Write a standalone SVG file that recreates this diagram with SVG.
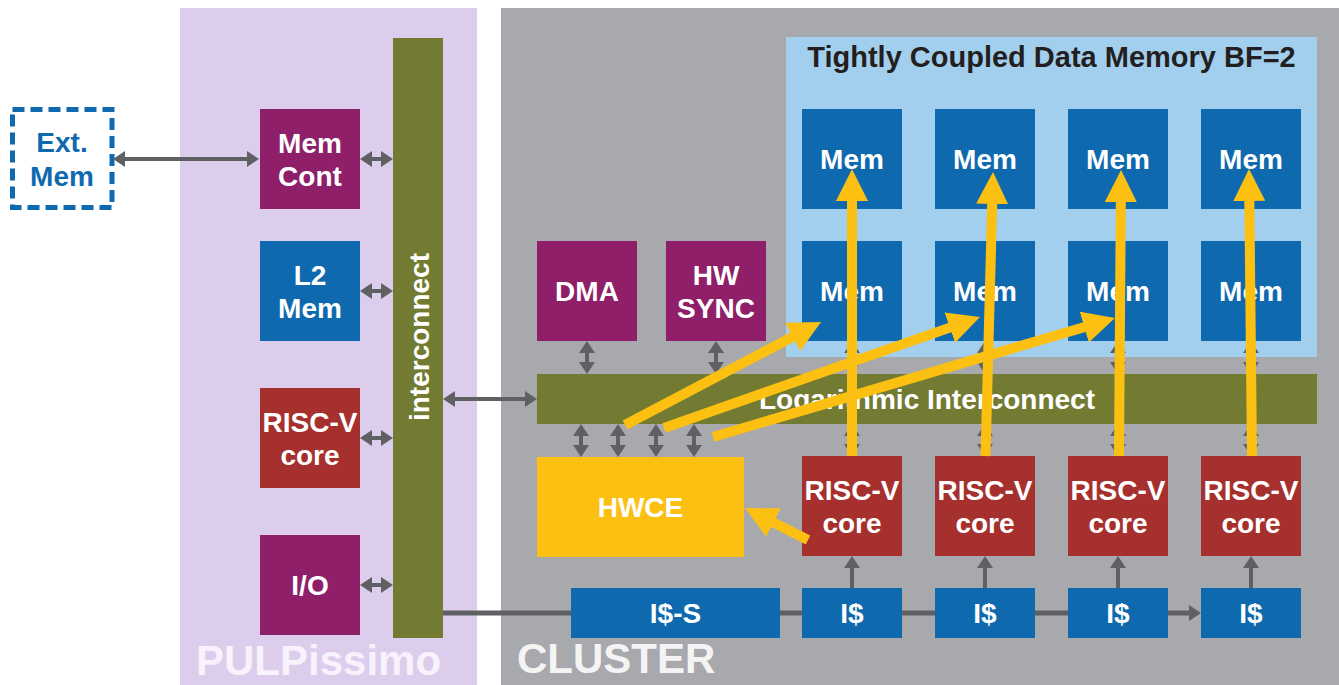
<svg xmlns="http://www.w3.org/2000/svg" width="1339" height="685" viewBox="0 0 1339 685">
<style>
 text { font-family: "Liberation Sans", Arial, Helvetica, sans-serif; font-weight: bold; }
 .lbl { fill: #FFFFFF; font-size: 28px; text-anchor: middle; }
 .purple { fill: #8E1F68; }
 .red { fill: #A6302D; }
 .blue { fill: #0F69AF; }
 .olive { fill: #737A32; }
 .yel { fill: #FCC012; }
 .ga { stroke: #5F6064; stroke-width: 4; fill: none; marker-start: url(#gh); marker-end: url(#gh); }
 .ga1 { stroke: #5F6064; stroke-width: 4; fill: none; marker-end: url(#gh); }
 .gl { stroke: #5F6064; stroke-width: 5; fill: none; }
 .ya { stroke: #FCC012; stroke-width: 10; fill: none; marker-end: url(#yh); }
</style>
<defs>
 <marker id="gh" viewBox="0 0 12 16" markerWidth="12" markerHeight="16" refX="4" refY="8" orient="auto-start-reverse" markerUnits="userSpaceOnUse">
  <path d="M0,0 L12,8 L0,16 Z" fill="#5F6064"/>
 </marker>
 <marker id="yh" viewBox="0 0 32 32" markerWidth="32" markerHeight="32" refX="12" refY="16" orient="auto" markerUnits="userSpaceOnUse">
  <path d="M0,0 L32,16 L0,32 Z" fill="#FCC012"/>
 </marker>
</defs>
<rect x="0" y="0" width="1339" height="685" fill="#FFFFFF"/>

<g id="pulpissimo">
 <rect x="180" y="8" width="297" height="677" fill="#DDCDED"/>
 <text x="196" y="675" font-size="42" fill="#F7F2FB">PULPissimo</text>
</g>
<g id="cluster">
 <rect x="501" y="8" width="838" height="677" fill="#A8A9AD"/>
 <text x="517" y="673" font-size="42" fill="#F4F4F5">CLUSTER</text>
</g>
<g id="tcdm">
 <rect x="786" y="37" width="531" height="320" fill="#A3CFEE"/>
 <text x="1051.5" y="67" font-size="29" fill="#231F20" text-anchor="middle">Tightly Coupled Data Memory BF=2</text>
</g>

<g id="ext-mem">
 <rect x="12.5" y="109.5" width="99.5" height="98" fill="none" stroke="#0F69AF" stroke-width="5" stroke-dasharray="12 6"/>
 <text x="62" y="152" font-size="28" fill="#0F69AF" text-anchor="middle">Ext.</text>
 <text x="62" y="186" font-size="28" fill="#0F69AF" text-anchor="middle">Mem</text>
</g>

<g id="interconnect">
 <rect class="olive" x="393" y="38" width="50" height="600"/>
 <text class="lbl" transform="translate(429,337) rotate(-90)">interconnect</text>
</g>
<g id="mem-cont">
 <rect class="purple" x="260" y="109" width="100" height="100"/>
 <text class="lbl" x="310" y="153">Mem</text>
 <text class="lbl" x="310" y="186">Cont</text>
</g>
<g id="l2-mem">
 <rect class="blue" x="260" y="241" width="100" height="100"/>
 <text class="lbl" x="310" y="285">L2</text>
 <text class="lbl" x="310" y="318">Mem</text>
</g>
<g id="fc-core">
 <rect class="red" x="260" y="388" width="100" height="100"/>
 <text class="lbl" x="310" y="432">RISC-V</text>
 <text class="lbl" x="310" y="465">core</text>
</g>
<g id="io">
 <rect class="purple" x="260" y="535" width="100" height="100"/>
 <text class="lbl" x="310" y="595">I/O</text>
</g>

<g id="dma">
 <rect class="purple" x="537" y="241" width="100" height="100"/>
 <text class="lbl" x="587" y="301">DMA</text>
</g>
<g id="hw-sync">
 <rect class="purple" x="666" y="241" width="100" height="100"/>
 <text class="lbl" x="716" y="285">HW</text>
 <text class="lbl" x="716" y="318">SYNC</text>
</g>
<g id="log-interconnect">
 <rect class="olive" x="537" y="374" width="780" height="50"/>
 <text class="lbl" x="927" y="409">Logarithmic Interconnect</text>
</g>
<g id="hwce">
 <rect class="yel" x="537" y="457" width="207" height="100"/>
 <text class="lbl" x="640.5" y="517">HWCE</text>
</g>
<g id="icache-s">
 <rect class="blue" x="571" y="588" width="209" height="50"/>
 <text class="lbl" x="675.5" y="623">I$-S</text>
</g>

<g id="mem-1-1"><rect class="blue" x="802" y="109" width="100" height="100"/><text class="lbl" x="852" y="169">Mem</text></g>
<g id="mem-1-2"><rect class="blue" x="935" y="109" width="100" height="100"/><text class="lbl" x="985" y="169">Mem</text></g>
<g id="mem-1-3"><rect class="blue" x="1068" y="109" width="100" height="100"/><text class="lbl" x="1118" y="169">Mem</text></g>
<g id="mem-1-4"><rect class="blue" x="1201" y="109" width="100" height="100"/><text class="lbl" x="1251" y="169">Mem</text></g>
<g id="mem-2-1"><rect class="blue" x="802" y="241" width="100" height="100"/><text class="lbl" x="852" y="301">Mem</text></g>
<g id="mem-2-2"><rect class="blue" x="935" y="241" width="100" height="100"/><text class="lbl" x="985" y="301">Mem</text></g>
<g id="mem-2-3"><rect class="blue" x="1068" y="241" width="100" height="100"/><text class="lbl" x="1118" y="301">Mem</text></g>
<g id="mem-2-4"><rect class="blue" x="1201" y="241" width="100" height="100"/><text class="lbl" x="1251" y="301">Mem</text></g>

<g id="core-1"><rect class="red" x="802" y="456" width="100" height="100"/><text class="lbl" x="852" y="500">RISC-V</text><text class="lbl" x="852" y="533">core</text></g>
<g id="core-2"><rect class="red" x="935" y="456" width="100" height="100"/><text class="lbl" x="985" y="500">RISC-V</text><text class="lbl" x="985" y="533">core</text></g>
<g id="core-3"><rect class="red" x="1068" y="456" width="100" height="100"/><text class="lbl" x="1118" y="500">RISC-V</text><text class="lbl" x="1118" y="533">core</text></g>
<g id="core-4"><rect class="red" x="1201" y="456" width="100" height="100"/><text class="lbl" x="1251" y="500">RISC-V</text><text class="lbl" x="1251" y="533">core</text></g>

<g id="icache-1"><rect class="blue" x="802" y="588" width="100" height="50"/><text class="lbl" x="852" y="623">I$</text></g>
<g id="icache-2"><rect class="blue" x="935" y="588" width="100" height="50"/><text class="lbl" x="985" y="623">I$</text></g>
<g id="icache-3"><rect class="blue" x="1068" y="588" width="100" height="50"/><text class="lbl" x="1118" y="623">I$</text></g>
<g id="icache-4"><rect class="blue" x="1201" y="588" width="100" height="50"/><text class="lbl" x="1251" y="623">I$</text></g>

<g id="connectors">
 <line class="ga" x1="121" y1="159" x2="251" y2="159"/>
 <line class="ga" x1="368" y1="159" x2="385" y2="159"/>
 <line class="ga" x1="368" y1="291" x2="385" y2="291"/>
 <line class="ga" x1="368" y1="438" x2="385" y2="438"/>
 <line class="ga" x1="368" y1="585" x2="385" y2="585"/>
 <line class="ga" x1="451" y1="399" x2="529" y2="399"/>
 <line class="ga" x1="587" y1="349" x2="587" y2="366"/>
 <line class="ga" x1="716" y1="349" x2="716" y2="366"/>
 <line class="ga" x1="581" y1="432" x2="581" y2="449"/>
 <line class="ga" x1="618" y1="432" x2="618" y2="449"/>
 <line class="ga" x1="656" y1="432" x2="656" y2="449"/>
 <line class="ga" x1="694" y1="432" x2="694" y2="449"/>
 <line class="ga" x1="852" y1="349" x2="852" y2="366"/>
 <line class="ga" x1="985" y1="349" x2="985" y2="366"/>
 <line class="ga" x1="1118" y1="349" x2="1118" y2="366"/>
 <line class="ga" x1="1251" y1="349" x2="1251" y2="366"/>
 <line class="ga" x1="852" y1="432" x2="852" y2="448"/>
 <line class="ga" x1="985" y1="432" x2="985" y2="448"/>
 <line class="ga" x1="1118" y1="432" x2="1118" y2="448"/>
 <line class="ga" x1="1251" y1="432" x2="1251" y2="448"/>
 <line class="ga1" x1="852" y1="588" x2="852" y2="564"/>
 <line class="ga1" x1="985" y1="588" x2="985" y2="564"/>
 <line class="ga1" x1="1118" y1="588" x2="1118" y2="564"/>
 <line class="ga1" x1="1251" y1="588" x2="1251" y2="564"/>
 <line class="gl" x1="443" y1="613" x2="571" y2="613"/>
 <line class="gl" x1="780" y1="613" x2="802" y2="613"/>
 <line class="gl" x1="902" y1="613" x2="935" y2="613"/>
 <line class="gl" x1="1035" y1="613" x2="1068" y2="613"/>
 <line class="gl" x1="1168" y1="613" x2="1193" y2="613" marker-end="url(#gh)"/>
 <line class="ya" x1="625" y1="425" x2="803.3" y2="331.3"/>
 <line class="ya" x1="664" y1="428" x2="961.1" y2="323.6"/>
 <line class="ya" x1="713" y1="437" x2="1095.8" y2="323.7"/>
 <line class="ya" x1="808" y1="540" x2="762.8" y2="517.1"/>
 <line class="ya" x1="852" y1="456" x2="852" y2="189"/>
 <line class="ya" x1="985.5" y1="456" x2="992.5" y2="192"/>
 <line class="ya" x1="1119" y1="456" x2="1120.9" y2="190"/>
 <line class="ya" x1="1252" y1="456" x2="1249.2" y2="189"/>
</g>
</svg>
